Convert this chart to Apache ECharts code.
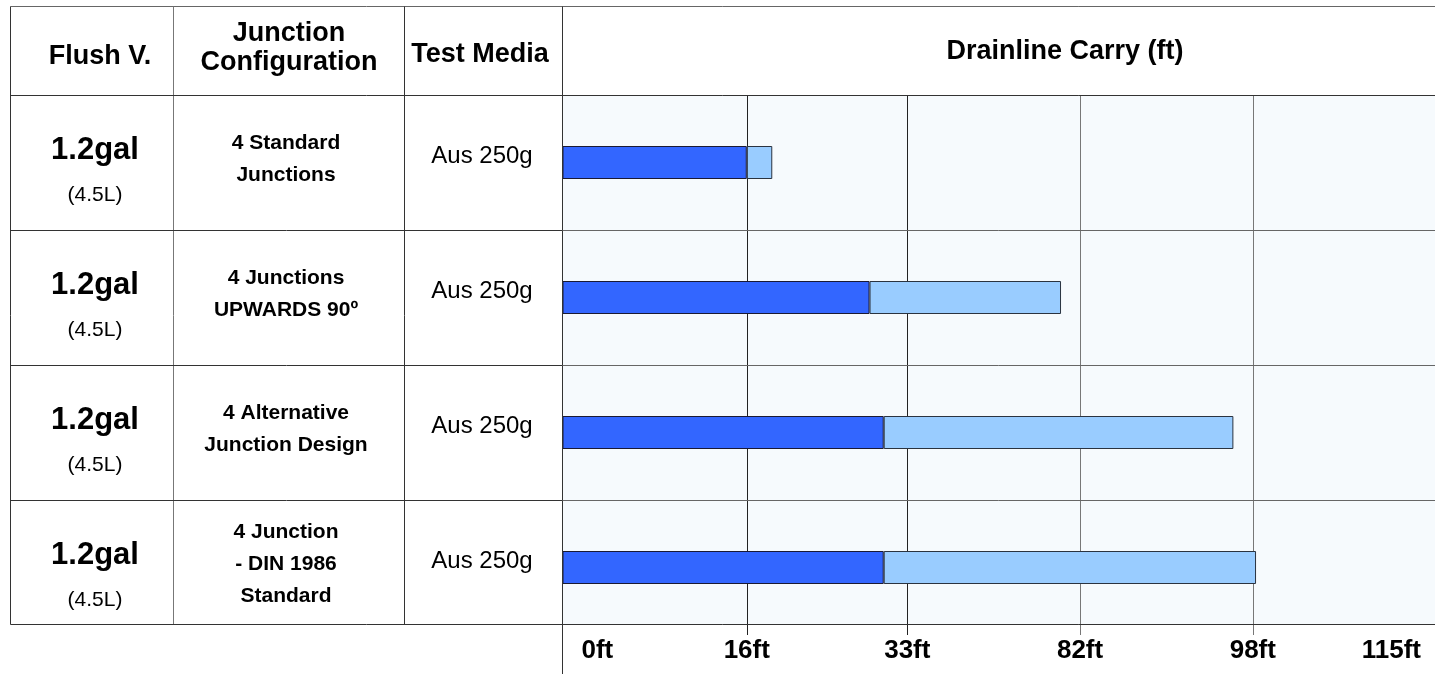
<!DOCTYPE html>
<html>
<head>
<meta charset="utf-8">
<title>Drainline Carry</title>
<script src="https://cdn.jsdelivr.net/npm/echarts@6/dist/echarts.min.js"></script>
<style>
  html, body { margin: 0; padding: 0; background: #fff; }
  #chart { width: 1435px; height: 674px; }
</style>
</head>
<body>
<div id="chart"></div>
<script>
// table columns
const flushVolumes = ['1.2gal', '1.2gal', '1.2gal', '1.2gal'];
const flushLitres = ['(4.5L)', '(4.5L)', '(4.5L)', '(4.5L)'];
const junctionConfigs = [
  '4 Standard\nJunctions',
  '4 Junctions\nUPWARDS 90º',
  '4 Alternative\nJunction Design',
  '4 Junction\n- DIN 1986\nStandard'
];
const testMedia = ['Aus 250g', 'Aus 250g', 'Aus 250g', 'Aus 250g'];

// drainline carry in ft (dark = first part, total = end of the light part)
const carryDark = [16, 29, 30.5, 30.5];
const carryTotal = [18.7, 76.6, 96.2, 98.3];

// the ft scale is not linear: every label owns one gridline
const tickFt = [0, 16, 33, 82, 98, 115];
const tickLabels = ['0ft', '16ft', '33ft', '82ft', '98ft', '115ft'];
const tickPos = [0, 1.056, 1.976, 2.966, 3.956, 5];

// ft -> axis position, piecewise between the labelled gridlines
function toAxis(ft) {
  for (let i = 1; i < tickFt.length; i++) {
    if (ft <= tickFt[i]) {
      const f = (ft - tickFt[i - 1]) / (tickFt[i] - tickFt[i - 1]);
      return tickPos[i - 1] + f * (tickPos[i] - tickPos[i - 1]);
    }
  }
  return tickPos[tickPos.length - 1];
}

const FONT = '"Liberation Sans", Arial, Helvetica, sans-serif';
const W = 1435;
const headTop = 6.5, headBottom = 95.5, rowH = 135, tableBottom = 624.5;
const colX = [10.5, 173.5, 404.5, 562.5];

const chartDom = document.getElementById('chart');
const myChart = echarts.init(chartDom);

function txt(text, x, y, size, bold, lineHeight) {
  const style = {
    text: text,
    x: x,
    y: y,
    align: 'center',
    verticalAlign: 'middle',
    textAlign: 'center',
    textVerticalAlign: 'middle',
    fill: '#000',
    font: (bold ? 'bold ' : '') + size + 'px ' + FONT
  };
  if (lineHeight) style.lineHeight = lineHeight;
  return { type: 'text', z: 20, silent: true, style: style };
}

function line(x1, y1, x2, y2, color) {
  return {
    type: 'line',
    z: 15,
    silent: true,
    shape: { x1: x1, y1: y1, x2: x2, y2: y2 },
    style: { stroke: color, lineWidth: 1 }
  };
}

const graphics = [];
// chart area background
graphics.push({
  type: 'rect',
  z: -10,
  silent: true,
  shape: { x: 563, y: 96, width: W - 563, height: tableBottom - 96 },
  style: { fill: '#F6FAFD' }
});
// table frame
graphics.push(line(colX[0], headTop, W, headTop, '#666'));
graphics.push(line(colX[0], headTop, colX[0], tableBottom, '#333'));
graphics.push(line(colX[1], headTop, colX[1], tableBottom, '#777'));
graphics.push(line(colX[2], headTop, colX[2], tableBottom, '#333'));
graphics.push(line(colX[3], headTop, colX[3], 674, '#333'));
graphics.push(line(colX[0], headBottom, W, headBottom, '#333'));
for (let i = 1; i < 4; i++) {
  const y = Math.round(headBottom - 0.5 + i * rowH) + 0.5;
  graphics.push(line(colX[0], y, colX[3], y, '#333'));
  graphics.push(line(colX[3], y, W, y, '#666'));
}
graphics.push(line(colX[0], tableBottom, W, tableBottom, '#333'));

// header
graphics.push(txt('Flush V.', 100, 57, 27, true));
graphics.push(txt('Junction\nConfiguration', 289, 48, 27, true, 29));
graphics.push(txt('Test Media', 480, 55, 27, true));
graphics.push(txt('Drainline Carry (ft)', 1065, 52, 27, true));

// rows
for (let i = 0; i < 4; i++) {
  const top = 95 + i * rowH;
  graphics.push(txt(flushVolumes[i], 95, top + 55, 31, true));
  graphics.push(txt(flushLitres[i], 95, top + 100, 21, false));
  graphics.push(txt(junctionConfigs[i], 286, top + 64, 21, true, 32));
  graphics.push(txt(testMedia[i], 482, top + 61, 24, false));
}

const darkPos = carryDark.map(toAxis);
const lightPos = carryTotal.map(function (v, i) { return toAxis(v) - darkPos[i]; });

const option = {
  backgroundColor: '#ffffff',
  animation: false,
  grid: {
    left: 562.5,
    right: 0,
    top: 95,
    bottom: 674 - 95 - 4 * rowH,
    containLabel: false,
    outerBoundsMode: 'none'
  },
  xAxis: {
    type: 'value',
    min: 0,
    max: 5,
    axisLine: { show: false },
    axisTick: { show: false, customValues: tickPos },
    splitLine: {
      show: true,
      lineStyle: { color: ['#333', '#222', '#222', '#777', '#777', '#777'], width: 1 }
    },
    axisLabel: {
      customValues: tickPos,
      margin: 3,
      color: '#000',
      fontSize: 26,
      fontWeight: 'bold',
      fontFamily: FONT,
      alignMinLabel: 'left',
      alignMaxLabel: 'right',
      formatter: function (val) {
        let idx = 0;
        for (let i = 0; i < tickPos.length; i++) {
          if (Math.abs(tickPos[i] - val) < 1e-6) idx = i;
        }
        if (idx === 0) return '{l|' + tickLabels[idx] + '}';
        if (idx === tickPos.length - 1) return '{r|' + tickLabels[idx] + '}';
        return tickLabels[idx];
      },
      rich: {
        l: { fontSize: 26, fontWeight: 'bold', fontFamily: FONT, color: '#000', padding: [0, 0, 0, 19] },
        r: { fontSize: 26, fontWeight: 'bold', fontFamily: FONT, color: '#000', padding: [0, 14, 0, 0] }
      }
    }
  },
  yAxis: {
    type: 'category',
    inverse: true,
    data: junctionConfigs,
    axisLine: { show: false },
    axisTick: { show: false },
    axisLabel: { show: false },
    splitLine: { show: false }
  },
  series: [
    {
      name: 'carry',
      type: 'bar',
      stack: 'carry',
      barWidth: 33,
      data: darkPos,
      itemStyle: { color: '#3366FF', borderColor: '#1a1a33', borderWidth: 1 }
    },
    {
      name: 'extra carry',
      type: 'bar',
      stack: 'carry',
      barWidth: 33,
      data: lightPos,
      itemStyle: { color: '#99CCFF', borderColor: '#2a3340', borderWidth: 1 }
    }
  ],
  graphic: graphics
};

option && myChart.setOption(option);
</script>
</body>
</html>
